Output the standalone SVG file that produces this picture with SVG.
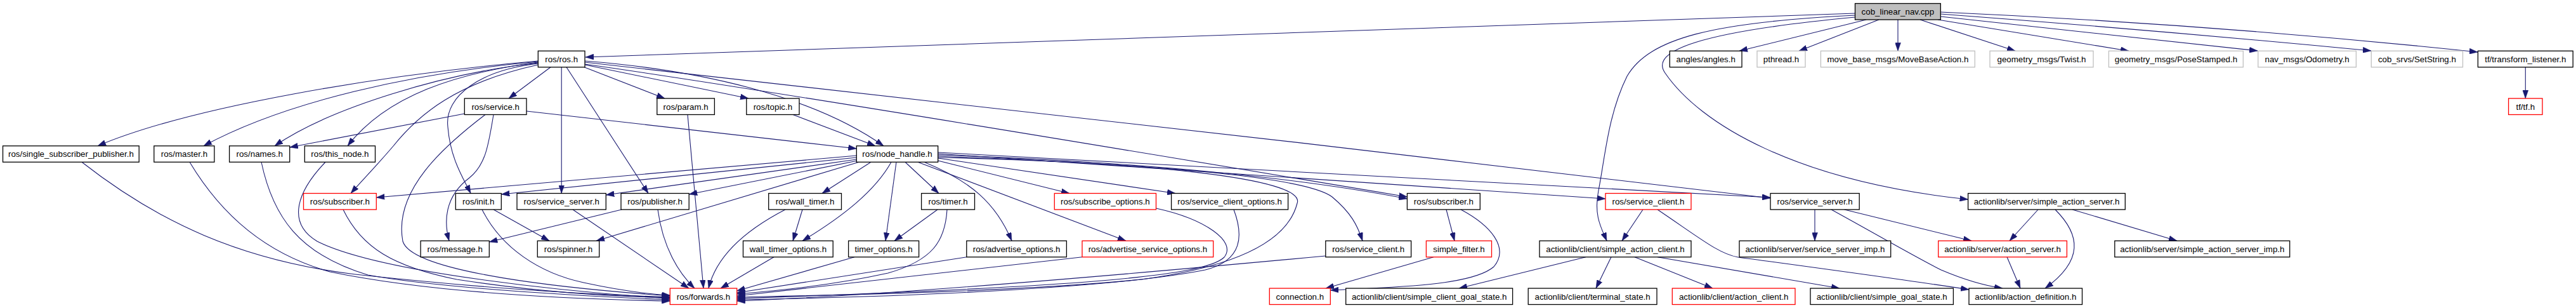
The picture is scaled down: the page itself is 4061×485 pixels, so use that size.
<svg xmlns="http://www.w3.org/2000/svg" width="4061" height="485" viewBox="0 0 4061 485">
<style>
.n rect{fill:#fff;stroke:#000;stroke-width:1.3}
.n.r rect{stroke:#ff0000}
.n.g rect{stroke:#bfbfbf}
.n.root rect{fill:#bfbfbf}
.n text{font-family:"Liberation Sans",Arial,sans-serif;font-size:13.33px;text-anchor:middle;fill:#000}
#edges path{fill:none;stroke:#191970;stroke-width:1.1;marker-end:url(#a)}
</style>
<defs>
<marker id="a" markerUnits="userSpaceOnUse" markerWidth="13" markerHeight="9" refX="13" refY="4.5" orient="auto">
<path d="M0,0 L13,4.5 L0,9 z" fill="#191970" stroke="#191970" stroke-width="0.5"/>
</marker>
</defs>
<rect width="4061" height="485" fill="#fff"/>
<g id="edges">
<path d="M2924.5,21 L923,90"/>
<path d="M2942,31 L2742,80.25"/>
<path d="M2962,31 L2836,80.25"/>
<path d="M2992,31 L2992,80.25"/>
<path d="M3027,31 L3177,80.25"/>
<path d="M3055,31 L3356,80.25"/>
<path d="M3059.3,26 L3559,80"/>
<path d="M3059.3,22 C3300,40 3550,62 3738,80"/>
<path d="M3059.3,19 C3350,32 3650,55 3906,82"/>
<path d="M2924.5,24 C2700,35 2600,60 2565,120 C2535,180 2530,250 2520,300 C2512,340 2525,360 2533,379.25"/>
<path d="M2924.5,27 C2680,50 2600,80 2625,115 C2680,195 2830,285 3102.6,314"/>
<path d="M848.3,96 C600,118 300,168 154,229.75"/>
<path d="M848.3,97 C650,115 450,160 321,229.75"/>
<path d="M848.3,99 C700,115 520,170 433,229.75"/>
<path d="M848.3,98 C720,115 610,150 548,229.75"/>
<path d="M848.3,102 C720,130 660,180 620,230 C590,265 570,285 553,304.5"/>
<path d="M848.3,100 C760,110 700,150 706,200 C710,250 730,280 742,304.5"/>
<path d="M868,105.75 L802,155"/>
<path d="M885.2,105.75 L885.2,304.5"/>
<path d="M893,105.75 L1022,304.5"/>
<path d="M921,105.75 L1048,155"/>
<path d="M922,102 L1180,155"/>
<path d="M922,96 C1100,110 1280,150 1393,229.75"/>
<path d="M922,101 C1200,140 1800,240 2218.4,310"/>
<path d="M922,98 C1300,140 2200,240 2791,312"/>
<path d="M1350.3,245 L593.3,311"/>
<path d="M1350.3,248 L790.3,306"/>
<path d="M1350.3,251 L955.3,307"/>
<path d="M1352,253 L1086.2,306"/>
<path d="M1354,255.25 L940,379.25"/>
<path d="M1373,255.25 L1296,304.5"/>
<path d="M1405,255.25 C1380,300 1330,340 1265,379.25"/>
<path d="M1413,255.25 L1396,379.25"/>
<path d="M1427,255.25 L1480,304.5"/>
<path d="M1457,255.25 C1530,285 1570,320 1595,379.25"/>
<path d="M1447,255.25 L1775,379.25"/>
<path d="M1478.7,253 L1686,304.5"/>
<path d="M1478.7,249 L1853,304.5"/>
<path d="M1478.7,244 C1800,255 2050,280 2218.4,313"/>
<path d="M1478.7,242 L2531,313"/>
<path d="M1478.7,240 L2791,311"/>
<path d="M1478.7,246 C1850,260 2060,280 2100,310 C2130,335 2140,355 2148,379.25"/>
<path d="M1478.7,248 C1800,255 2060,280 2045,320 C2030,380 1950,420 1800,440 C1600,460 1300,465 1161.7,468"/>
<path d="M732.3,179 L456.7,232"/>
<path d="M830,175 L1350.3,234"/>
<path d="M778,180.5 C770,230 765,260 740,280 C700,310 700,350 708,379.25"/>
<path d="M765,180.5 C700,230 620,300 635,380 C650,430 900,455 1056.3,466"/>
<path d="M513,255.25 C470,300 450,350 500,380 C600,430 900,460 1056.3,470"/>
<path d="M412,255.25 C430,340 470,400 580,433 C700,455 950,468 1056.3,472"/>
<path d="M299,255.25 C350,340 420,400 520,428 C700,465 950,472 1056.3,474"/>
<path d="M129,255.25 C250,350 380,410 560,432 C800,458 950,464 1056.3,468"/>
<path d="M541,330 C570,390 620,420 720,440 C850,460 950,466 1056.3,469"/>
<path d="M760,330 C790,390 850,430 920,445 C980,458 1020,463 1056.3,465"/>
<path d="M778,330 L866,379.25"/>
<path d="M903,330 L1086,454"/>
<path d="M1037,330 C1045,390 1070,430 1095,454"/>
<path d="M980,330 L771.3,381"/>
<path d="M1084,180.5 L1109,454"/>
<path d="M1250,180.5 L1380,229.75"/>
<path d="M1238,330 C1180,360 1130,400 1117,454"/>
<path d="M1265,330 L1250,379.25"/>
<path d="M1220,404.75 L1136,454"/>
<path d="M1347,404.75 L1161.7,458"/>
<path d="M1478,330 L1410,379.25"/>
<path d="M1493,330 C1490,380 1470,410 1400,430 C1300,452 1200,460 1161.7,463"/>
<path d="M1524,404.75 L1161.7,461"/>
<path d="M1706,404.75 L1161.7,466"/>
<path d="M1822.5,328 C1900,345 1950,380 1930,405 C1900,435 1700,452 1161.7,470"/>
<path d="M1945,330 C1960,370 1960,410 1900,425 C1750,455 1400,468 1161.7,472"/>
<path d="M2089.8,403 C1800,430 1400,465 1161.7,474"/>
<path d="M2280,330 L2293,379.25"/>
<path d="M2303,330 C2350,355 2380,390 2355,420 C2320,450 2200,452 2097.3,457"/>
<path d="M2260,404.75 L2090,454"/>
<path d="M2590,330 L2557,379.25"/>
<path d="M2613,330 C2680,375 2710,400 2740,405 C2850,420 3000,440 3104,456"/>
<path d="M2500,404.75 L2300,454"/>
<path d="M2540,404.75 L2516,454"/>
<path d="M2577,404.75 L2700,454"/>
<path d="M2613,404.75 L2900,454"/>
<path d="M2861,330 L2861,379.25"/>
<path d="M2907.5,330 L3108,379.25"/>
<path d="M2887,330 C2960,370 3020,405 3060,425 C3100,442 3130,450 3157,454"/>
<path d="M3213,330 L3168,379.25"/>
<path d="M3240,330 C3280,370 3285,410 3224,454"/>
<path d="M3267,330 L3432,379.25"/>
<path d="M3164,404.75 L3185,454"/>
<path d="M3981.3,105.75 L3981.3,155"/>
</g>
<g id="root" class="n root"><rect x="2924.5" y="5.5" width="134.8" height="25.5"/><text x="2991.9" y="23">cob_linear_nav.cpp</text></g>
<g id="ros" class="n"><rect x="848.3" y="80.25" width="73.7" height="25.5"/><text x="885.2" y="97.75">ros/ros.h</text></g>
<g id="angles" class="n"><rect x="2632.3" y="80.25" width="113.7" height="25.5"/><text x="2689.2" y="97.75">angles/angles.h</text></g>
<g id="pthread" class="n g"><rect x="2770" y="80.25" width="76" height="25.5"/><text x="2808" y="97.75">pthread.h</text></g>
<g id="movebase" class="n g"><rect x="2870.4" y="80.25" width="242.9" height="25.5"/><text x="2991.9" y="97.75">move_base_msgs/MoveBaseAction.h</text></g>
<g id="twist" class="n g"><rect x="3137" y="80.25" width="163" height="25.5"/><text x="3218.5" y="97.75">geometry_msgs/Twist.h</text></g>
<g id="pose" class="n g"><rect x="3324.4" y="80.25" width="211.9" height="25.5"/><text x="3430.4" y="97.75">geometry_msgs/PoseStamped.h</text></g>
<g id="odom" class="n g"><rect x="3559.8" y="80.25" width="154.6" height="25.5"/><text x="3637.1" y="97.75">nav_msgs/Odometry.h</text></g>
<g id="setstring" class="n g"><rect x="3738.3" y="80.25" width="144.2" height="25.5"/><text x="3810.4" y="97.75">cob_srvs/SetString.h</text></g>
<g id="tflisten" class="n"><rect x="3906.4" y="80.25" width="149.8" height="25.5"/><text x="3981.3" y="97.75">tf/transform_listener.h</text></g>
<g id="service" class="n"><rect x="732.3" y="155" width="97.7" height="25.5"/><text x="781.2" y="172.5">ros/service.h</text></g>
<g id="param" class="n"><rect x="1035.8" y="155" width="90.6" height="25.5"/><text x="1081.1" y="172.5">ros/param.h</text></g>
<g id="topic" class="n"><rect x="1176.8" y="155" width="83.2" height="25.5"/><text x="1218.4" y="172.5">ros/topic.h</text></g>
<g id="tf" class="n r"><rect x="3954.6" y="155" width="53.4" height="25.5"/><text x="3981.3" y="172.5">tf/tf.h</text></g>
<g id="ssp" class="n"><rect x="4.5" y="229.75" width="214.7" height="25.5"/><text x="111.9" y="247.25">ros/single_subscriber_publisher.h</text></g>
<g id="master" class="n"><rect x="242.8" y="229.75" width="95.1" height="25.5"/><text x="290.4" y="247.25">ros/master.h</text></g>
<g id="names" class="n"><rect x="361.6" y="229.75" width="95.1" height="25.5"/><text x="409.2" y="247.25">ros/names.h</text></g>
<g id="thisnode" class="n"><rect x="480.3" y="229.75" width="111.2" height="25.5"/><text x="535.9" y="247.25">ros/this_node.h</text></g>
<g id="nh" class="n"><rect x="1350.3" y="229.75" width="128.4" height="25.5"/><text x="1414.5" y="247.25">ros/node_handle.h</text></g>
<g id="subr" class="n r"><rect x="478.5" y="304.5" width="114.8" height="25.5"/><text x="535.9" y="322">ros/subscriber.h</text></g>
<g id="init" class="n"><rect x="718.3" y="304.5" width="72" height="25.5"/><text x="754.3" y="322">ros/init.h</text></g>
<g id="ssrv" class="n"><rect x="815" y="304.5" width="140.3" height="25.5"/><text x="885.2" y="322">ros/service_server.h</text></g>
<g id="pub" class="n"><rect x="979" y="304.5" width="107.2" height="25.5"/><text x="1032.6" y="322">ros/publisher.h</text></g>
<g id="wtimer" class="n"><rect x="1211.7" y="304.5" width="114.8" height="25.5"/><text x="1269.1" y="322">ros/wall_timer.h</text></g>
<g id="timer" class="n"><rect x="1452.6" y="304.5" width="83.9" height="25.5"/><text x="1494.6" y="322">ros/timer.h</text></g>
<g id="subopt" class="n r"><rect x="1662.3" y="304.5" width="160.2" height="25.5"/><text x="1742.4" y="322">ros/subscribe_options.h</text></g>
<g id="scopt" class="n"><rect x="1846.6" y="304.5" width="184" height="25.5"/><text x="1938.6" y="322">ros/service_client_options.h</text></g>
<g id="subb" class="n"><rect x="2218.4" y="304.5" width="114.9" height="25.5"/><text x="2275.9" y="322">ros/subscriber.h</text></g>
<g id="sclr" class="n r"><rect x="2531" y="304.5" width="135" height="25.5"/><text x="2598.5" y="322">ros/service_client.h</text></g>
<g id="ssrv2" class="n"><rect x="2791" y="304.5" width="140.2" height="25.5"/><text x="2861.1" y="322">ros/service_server.h</text></g>
<g id="sas" class="n"><rect x="3102.6" y="304.5" width="247.7" height="25.5"/><text x="3226.5" y="322">actionlib/server/simple_action_server.h</text></g>
<g id="msg" class="n"><rect x="663.1" y="379.25" width="108.2" height="25.5"/><text x="717.2" y="396.75">ros/message.h</text></g>
<g id="spin" class="n"><rect x="847.3" y="379.25" width="97.4" height="25.5"/><text x="896" y="396.75">ros/spinner.h</text></g>
<g id="wto" class="n"><rect x="1171.5" y="379.25" width="141.7" height="25.5"/><text x="1242.4" y="396.75">wall_timer_options.h</text></g>
<g id="to" class="n"><rect x="1337.6" y="379.25" width="111" height="25.5"/><text x="1393.1" y="396.75">timer_options.h</text></g>
<g id="advopt" class="n"><rect x="1523.8" y="379.25" width="157.6" height="25.5"/><text x="1602.6" y="396.75">ros/advertise_options.h</text></g>
<g id="advsrv" class="n r"><rect x="1706" y="379.25" width="206.7" height="25.5"/><text x="1809.4" y="396.75">ros/advertise_service_options.h</text></g>
<g id="sclb" class="n"><rect x="2089.8" y="379.25" width="134.8" height="25.5"/><text x="2157.2" y="396.75">ros/service_client.h</text></g>
<g id="sfilt" class="n r"><rect x="2248.4" y="379.25" width="103.1" height="25.5"/><text x="2300" y="396.75">simple_filter.h</text></g>
<g id="sac" class="n"><rect x="2427" y="379.25" width="239" height="25.5"/><text x="2546.5" y="396.75">actionlib/client/simple_action_client.h</text></g>
<g id="ssimp" class="n"><rect x="2742" y="379.25" width="238.7" height="25.5"/><text x="2861.4" y="396.75">actionlib/server/service_server_imp.h</text></g>
<g id="asrv" class="n r"><rect x="3055.7" y="379.25" width="202.7" height="25.5"/><text x="3157" y="396.75">actionlib/server/action_server.h</text></g>
<g id="sasimp" class="n"><rect x="3333.8" y="379.25" width="275.9" height="25.5"/><text x="3471.8" y="396.75">actionlib/server/simple_action_server_imp.h</text></g>
<g id="fwd" class="n r"><rect x="1056.3" y="454" width="105.4" height="25.5"/><text x="1109" y="471.5">ros/forwards.h</text></g>
<g id="conn" class="n r"><rect x="2001.3" y="454" width="96" height="25.5"/><text x="2049.3" y="471.5">connection.h</text></g>
<g id="scgs" class="n"><rect x="2121.7" y="454" width="262.9" height="25.5"/><text x="2253.2" y="471.5">actionlib/client/simple_client_goal_state.h</text></g>
<g id="term" class="n"><rect x="2409.2" y="454" width="202.8" height="25.5"/><text x="2510.6" y="471.5">actionlib/client/terminal_state.h</text></g>
<g id="aclient" class="n r"><rect x="2636.3" y="454" width="193.7" height="25.5"/><text x="2733.2" y="471.5">actionlib/client/action_client.h</text></g>
<g id="sgs" class="n"><rect x="2854" y="454" width="225.4" height="25.5"/><text x="2966.7" y="471.5">actionlib/client/simple_goal_state.h</text></g>
<g id="adef" class="n"><rect x="3104" y="454" width="178.5" height="25.5"/><text x="3193.3" y="471.5">actionlib/action_definition.h</text></g>
</svg>
